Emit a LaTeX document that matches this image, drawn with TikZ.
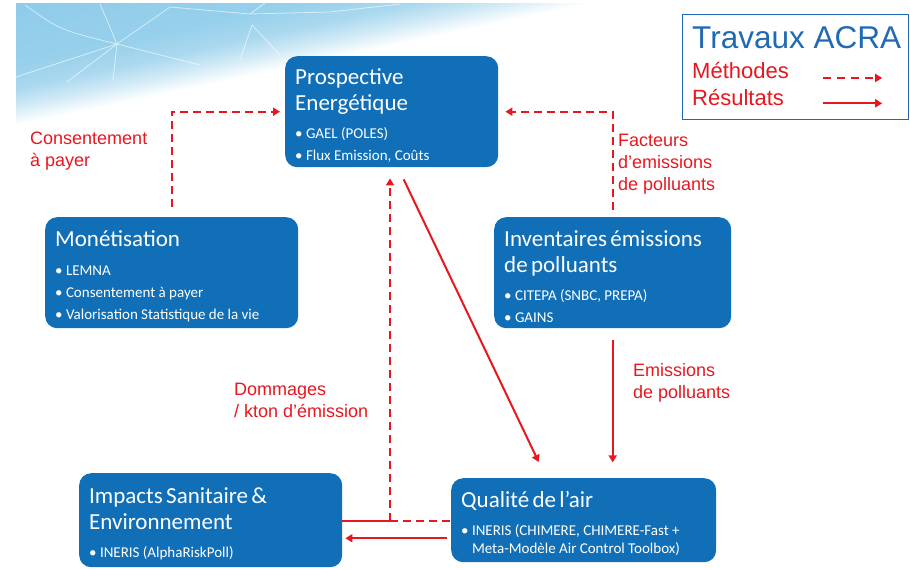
\documentclass[tikz,border=0pt]{standalone}
\usepackage{fontspec}
\setmainfont{Liberation Sans}
\newfontfamily\calibri{Carlito}
\usetikzlibrary{positioning,arrows.meta}
\definecolor{blocbleu}{RGB}{16,111,183}
\definecolor{titrebleu}{RGB}{31,106,178}
\definecolor{acrarouge}{RGB}{232,22,30}
\definecolor{fondbleu}{RGB}{125,196,230}
\pgfdeclareverticalshading{fondacra}{100bp}{color(0bp)=(white); color(50bp)=(white);
  color(51.5bp)=(fondbleu!35); color(53bp)=(fondbleu!65); color(55bp)=(fondbleu!80);
  color(70bp)=(fondbleu); color(100bp)=(fondbleu)}
\tikzset{
  bloc/.style={fill=blocbleu, rounded corners=12pt, text=white, font=\calibri,
    align=left, anchor=north west, inner xsep=10pt, inner ysep=0pt},
  methode/.style={draw=acrarouge, line width=2pt, dash pattern=on 8pt off 5pt,
    -{Triangle[length=7pt,width=8pt]}},
  resultat/.style={draw=acrarouge, line width=2pt, -{Triangle[length=7pt,width=8pt]}},
  etiquette/.style={text=acrarouge, font=\fontsize{18}{22}\selectfont, align=left,
    inner sep=0pt, anchor=north west},
  legtexte/.style={etiquette, font=\fontsize{22}{27}\selectfont},
  reseau/.style={white, line width=0.8pt, opacity=0.6},
}
\newcommand{\titre}[2][6.5pt]{{\fontsize{23}{26}\selectfont\rule{0pt}{23.5pt}#2\par}\vspace{#1}}
\newcommand{\puces}[1]{{\fontsize{15}{22}\selectfont #1\par}}
\begin{document}
\begin{tikzpicture}[x=1pt,y=-1pt]
  \useasboundingbox (0,0) rectangle (910,568);
  \begin{scope}
    \clip (16,3) -- (590,3) -- (16,128) -- cycle;
    \shade[shading=fondacra, shading angle=12] (0,-235) rectangle (600,365);
    \draw[reseau] (25,5) .. controls (60,30) .. (117,44) -- (170,7) -- (250,14)
      (117,44) -- (16,77) (117,44) -- (67,82) (117,44) -- (113,80) (117,44) -- (200,65)
      (117,44) -- (100,4) (250,14) -- (265,3) (250,14) -- (330,12) (252,25) -- (280,55)
      (252,25) -- (240,60) (330,12) -- (400,4);
  \end{scope}

  \node[bloc, text width=193pt, minimum height=111pt] (prosp) at (285,56)
    {\titre{Prospective\\Energétique}\puces{• GAEL (POLES)\\• Flux Emission, Coûts}};
  \node[bloc, text width=233pt, minimum height=111pt] (monet) at (45,217)
    {\titre{Monétisation}\puces{• LEMNA\\• Consentement à payer\\• Valorisation Statistique de la vie}};
  \node[bloc, text width=217pt, minimum height=111pt] (invent) at (494,217)
    {\titre{Inventaires émissions\\de polluants}\puces{• CITEPA (SNBC, PREPA)\\• GAINS}};
  \node[bloc, text width=243pt, minimum height=94pt] (impacts) at (79,473)
    {\titre{Impacts Sanitaire \&\\Environnement}\puces{• INERIS (AlphaRiskPoll)}};
  \node[bloc, text width=245pt, minimum height=84pt] (qualite) at (451,478)
    {\titre[10pt]{Qualité de l’air}{\fontsize{15}{18}\selectfont • INERIS (CHIMERE, CHIMERE-Fast +\\\phantom{• }Meta-Modèle Air Control Toolbox)\par}};

  \node[etiquette] (consent) at (30,132) {Consentement\\à payer};
  \node[etiquette] (facteurs) at (618,134) {Facteurs\\d’emissions\\de polluants};
  \node[etiquette] (emis) at (633,363) {Emissions\\de polluants};
  \node[etiquette] (dommages) at (234,383) {Dommages\\/ kton d’émission};

  \draw[methode] ([yshift=10pt]monet.north) |- ([xshift=-5pt]prosp.west);
  \draw[methode] ([yshift=7pt]invent.north) |- ([xshift=7pt]prosp.east);
  \draw[resultat] ([xshift=12pt,yshift=-12pt]prosp.south) -- ([xshift=-45pt,yshift=16pt]qualite.north);
  \draw[resultat] ([yshift=-12pt]invent.south) -- ++(0,122);

  \coordinate (coin) at (390,521);
  \coordinate (bas) at ([xshift=-4pt,yshift=-18pt]qualite.west);
  \draw[resultat, -] (impacts.east |- coin) -- (coin);
  \draw[methode, -] (coin) -- (qualite.west |- coin);
  \draw[methode] (coin) -- ([yshift=-11pt]prosp.south -| coin);
  \draw[resultat] (bas) -- ([xshift=3pt]impacts.east |- bas);

  \node[draw=titrebleu, line width=1.2pt, minimum width=226pt, minimum height=105pt,
    anchor=north west] (legende) at (682,14) {};
  \node[anchor=north west, inner sep=0pt, text=titrebleu, font=\fontsize{31.5}{36}\selectfont]
    (travaux) at (692,26) {Travaux ACRA};
  \node[legtexte, below=13.5pt of travaux.south west, anchor=north west] (meth) {Méthodes};
  \node[legtexte, below=10.5pt of meth.south west, anchor=north west] (res) {Résultats};
  \draw[methode, dash pattern=on 8pt off 6pt] ([xshift=-86pt,yshift=-2pt]meth.mid east -| legende.east)
    -- ([xshift=-27pt,yshift=-2pt]meth.mid east -| legende.east);
  \draw[resultat] ([xshift=-86pt]res.mid east -| legende.east)
    -- ([xshift=-27pt]res.mid east -| legende.east);
\end{tikzpicture}
\end{document}
